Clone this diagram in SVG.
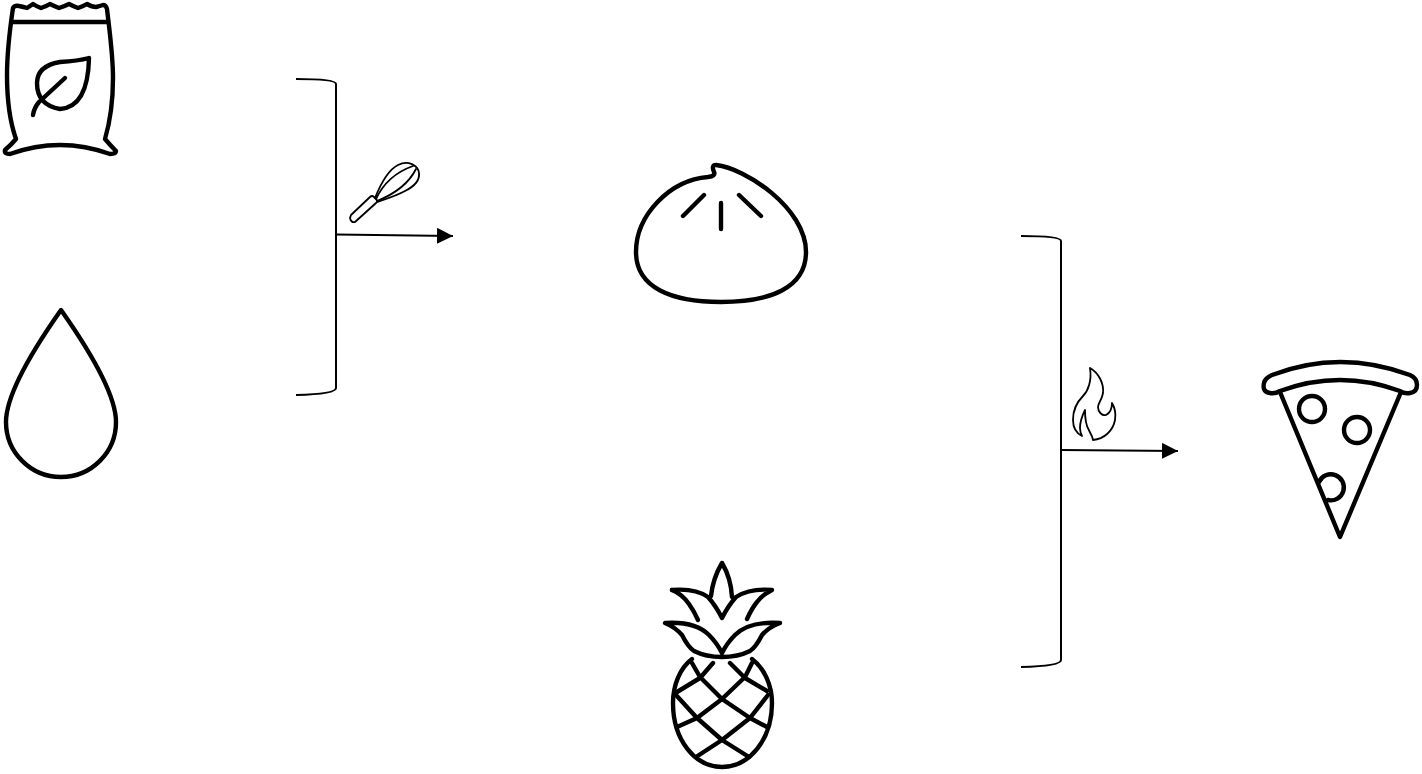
<svg xmlns="http://www.w3.org/2000/svg" width="1422" height="774" viewBox="0 0 1422 774">
<defs>
<style>
.i{fill:none;stroke:#000;stroke-width:4.4;stroke-linecap:round;stroke-linejoin:round}
.t{fill:none;stroke:#000;stroke-width:1.8;stroke-linecap:round;stroke-linejoin:round}
.c{fill:none;stroke:#000;stroke-width:2}
</style>
<marker id="a" markerUnits="userSpaceOnUse" markerWidth="18" markerHeight="18" refX="16" refY="8" orient="auto"><path d="M0 0L16 8L0 16Z" fill="#000"/></marker>
</defs>
<rect width="1422" height="774" fill="#fff"/>
<g id="connectors">
<path class="c" d="M296 79Q336 79 336 84V388Q336 394 296 395"/>
<path class="c" d="M336 234.500L453 236" marker-end="url(#a)"/>
<path class="c" d="M1021 236Q1061 236 1061 241V660Q1061 666 1021 667"/>
<path class="c" d="M1061 450L1178 451" marker-end="url(#a)"/>
</g>
<g id="flour" class="i">
<path d="M13 8Q15 5 19 6Q24 7 27 8Q30 6 33 4Q36 6 41 8Q47 6 50 4Q54 6 59 8Q65 6 69 4Q73 6 78 8Q84 6 87 4Q92 7 96 7Q100 6 103 5Q106 5 107 9C110 35 113 55 113 78C113 100 110 122 105 139Q111 146 116 151Q116 154 110 154Q85 145 60 145Q35 145 10 154Q4 154 5 150Q11 145 16 139C10 122 7 100 7 75C7 55 9 35 13 8Z"/>
<path d="M13 22H107"/>
<path d="M89 58Q78 61 60 62Q37 66 37 83Q37 105 60 109Q88 107 89 58Z"/>
<path d="M65 78L39 102Q34 108 33 115"/>
</g>
<g id="water" class="i">
<path d="M61 310Q6 388 6 422A55 55 0 0 0 116 422Q116 388 61 310Z"/>
</g>
<g id="dough" class="i">
<path d="M714 172Q711 165 716 165C745 168 806 208 806 252C806 288 770 302 721 302C672 302 636 288 636 252C636 215 670 180 708 177Q716 176 714 172Z"/>
<path d="M704 195L683 216M739 195L761 216M721 203V229"/>
</g>
<g id="pineapple" class="i">
<path d="M711 596Q713 578 722 563Q731 578 732 597"/>
<path d="M672 590Q695 588 708 597Q716 606 722 618Q728 606 736 597Q750 588 772 590Q762 595 757 602Q752 608 747 619"/>
<path d="M672 590Q682 594 689 604Q694 611 698 620"/>
<path d="M665 623Q695 621 709 635Q717 643 722 653Q727 643 735 635Q749 621 780 623Q769 627 762 635Q756 647 750 651Q738 657 722 657Q706 657 694 651Q688 647 682 635Q675 627 665 623Z"/>
<path d="M692 659C680 668 673 685 673 703C673 740 695 767 722 767C749 767 772 740 772 703C772 685 764 668 752 659"/>
<path d="M692 663L700 677L722 699L750 718L767 727M752 663L745 677L722 699L697 718L677 727M713 663L700 678L677 692M730 663L745 678L767 691M676 695L697 718L722 740L749 757M768 695L750 718L722 740L696 757"/>
</g>
<g id="whisk" class="t">
<path d="M350 218Q351 223 355 222L376 203Q378 201 376 199L374 197Q372 195 370 197L351 215Z"/>
<path d="M375 198C381 183 388 170 398 165C408 160 418 165 419 173C420 181 413 187 405 191C396 196 386 199 377 202"/>
<path d="M376 199C383 184 396 172 413 166M377 201C392 195 408 185 416 169"/>
</g>
<g id="fire" class="t">
<path d="M1090 368C1099 373 1104 384 1103 393C1102 400 1098 403 1098 407C1098 412 1102 416 1106 415C1110 413 1112 409 1112 403C1115 408 1116 414 1115 420C1113 431 1104 439 1093 440C1092 433 1087 430 1086 422C1085 417 1085 414 1085 410C1082 416 1080 422 1080 428C1080 431 1081 434 1082 436C1076 433 1073 428 1073 420C1073 411 1077 402 1083 396C1088 391 1092 381 1090 368Z"/>
</g>
<g id="pizza" class="i">
<path d="M1270 393Q1262 392 1264 383Q1265 378 1272 375Q1340 349 1410 375Q1417 378 1417 385Q1417 392 1410 393Q1404 394 1400 391Q1340 369 1280 391Q1275 394 1270 393Z"/>
<path d="M1280 392L1340 537L1401 392"/>
<circle cx="1312" cy="409" r="13"/>
<circle cx="1357" cy="430" r="13"/>
<path d="M1319 482A13 13 0 1 1 1328 500"/>
</g>
</svg>
